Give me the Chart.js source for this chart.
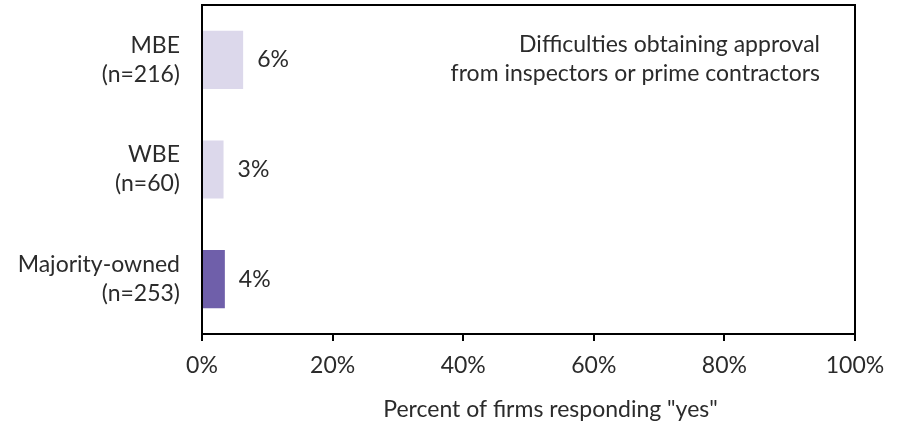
<!DOCTYPE html>
<html>
<head>
<meta charset="utf-8">
<script src="https://cdn.jsdelivr.net/npm/chart.js@4.4.0/dist/chart.umd.min.js"></script>
<style>
  html, body { margin:0; padding:0; background:#fff; }
  #wrap { width:902px; height:427px; }
</style>
</head>
<body>
<div id="wrap"><canvas id="chart1" width="902" height="427"></canvas></div>
<script>
// ── DATA ──────────────────────────────────────────────
const categories  = [['MBE','(n=216)'], ['WBE','(n=60)'], ['Majority-owned','(n=253)']];
const values      = [6.3, 3.3, 3.5];
const valueLabels = ['6%', '3%', '4%'];
const barColors   = ['#dcd8eb', '#dcd8eb', '#6f5faa'];
const xTicks      = [0, 20, 40, 60, 80, 100];
const noteLines   = ['Difficulties obtaining approval', 'from inspectors or prime contractors'];
const xTitle      = 'Percent of firms responding "yes"';

const FONT = "Lato, 'Open Sans', sans-serif";
const FS   = 23;
const TXT  = '#2b2b2b';

// ── PLUGINS ───────────────────────────────────────────
const frameAndLabels = {
  id: 'frameAndLabels',
  afterDatasetsDraw(chart) {
    const { ctx, chartArea: a, scales: { x, y } } = chart;
    ctx.save();
    // box top + right
    ctx.strokeStyle = '#000';
    ctx.lineWidth = 2;
    ctx.beginPath();
    ctx.moveTo(a.left, a.top);
    ctx.lineTo(a.right, a.top);
    ctx.lineTo(a.right, a.bottom);
    ctx.stroke();

    // value labels
    ctx.font = `${FS}px ${FONT}`;
    ctx.fillStyle = TXT;
    ctx.textBaseline = 'middle';
    ctx.textAlign = 'left';
    values.forEach((v, i) => {
      ctx.fillText(valueLabels[i], x.getPixelForValue(v) + 14, y.getPixelForValue(i));
    });

    // note
    ctx.textAlign = 'right';
    noteLines.forEach((t, i) => {
      ctx.fillText(t, a.right - 35, y.getPixelForValue(0) - 15 + i * 29);
    });

    // x axis title (sits a bit right of centre in the original)
    ctx.textAlign = 'center';
    ctx.fillText(xTitle, (a.left + a.right) / 2 + 22, x.bottom - 17);
    ctx.restore();
  }
};

// ── CHART ─────────────────────────────────────────────
const ctx = document.getElementById('chart1').getContext('2d');
new Chart(ctx, {
  type: 'bar',
  data: {
    labels: categories,
    datasets: [{
      data: values,
      backgroundColor: barColors,
      borderWidth: 0,
      barPercentage: 0.53,
      categoryPercentage: 1.0,
    }]
  },
  options: {
    indexAxis: 'y',
    responsive: false,
    animation: false,
    layout: { padding: { top: 5, right: 47, left: 0, bottom: 0 } },
    plugins: { legend: { display: false }, tooltip: { enabled: false } },
    scales: {
      x: {
        min: 0, max: 100,
        afterBuildTicks: s => { s.ticks = xTicks.map(v => ({ value: v })); },
        afterFit: s => { s.height = 93; s.paddingLeft = 0; s.paddingRight = 0; },
        border: { display: true, color: '#000', width: 2 },
        grid: { display: true, drawOnChartArea: false, drawTicks: true, tickLength: 7, color: '#000', lineWidth: 2 },
        ticks: { color: TXT, font: { family: FONT, size: FS }, padding: 11, maxRotation: 0, callback: v => v + '%' },
      },
      y: {
        afterFit: s => { s.width = 202; s.paddingTop = 0; s.paddingBottom = 0; },
        border: { display: true, color: '#000', width: 2 },
        grid: { display: false, drawTicks: false },
        ticks: { color: TXT, font: { family: FONT, size: FS, lineHeight: 1.26 }, padding: 22 },
      }
    }
  },
  plugins: [frameAndLabels]
});
</script>
</body>
</html>
